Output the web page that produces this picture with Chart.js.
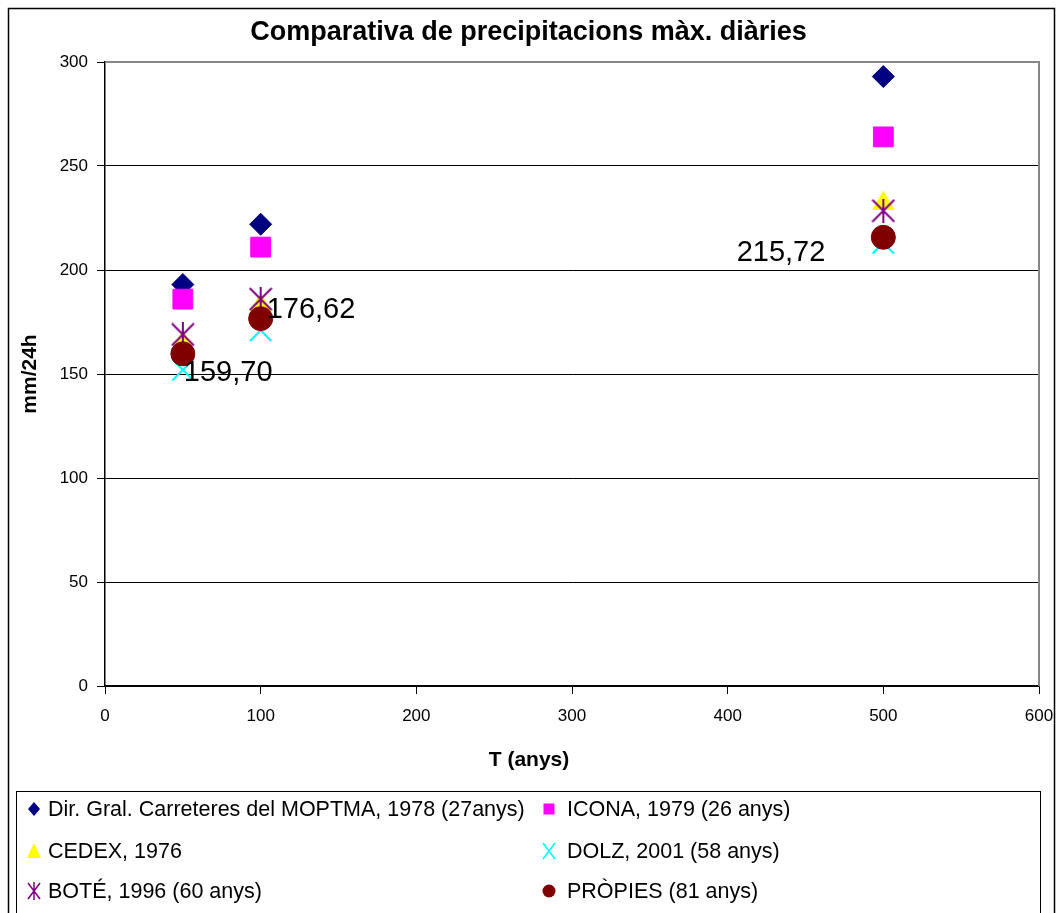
<!DOCTYPE html>
<html>
<head>
<meta charset="utf-8">
<title>Comparativa de precipitacions màx. diàries</title>
<script src="https://cdn.jsdelivr.net/npm/chart.js@4.4.1/dist/chart.umd.min.js"></script>
<style>
  html, body { margin: 0; padding: 0; background: #ffffff; }
  #wrap { width: 1056px; height: 913px; position: relative; }
</style>
</head>
<body>
<div id="wrap"><canvas id="chart" width="1056" height="913"></canvas></div>
<script>
// Return periods (years) and maximum daily precipitation (mm/24h) for each source
const returnPeriods = [50, 100, 500];
const moptma  = [193, 222, 293];
const icona   = [186, 211, 264];
const cedex   = [165, 183, 232];
const dolz    = [152, 171, 213];
const bote    = [169, 186, 228.5];
const propies = [159.70, 176.62, 215.72];

const seriesNames = [
  'Dir. Gral. Carreteres del MOPTMA, 1978 (27anys)',
  'ICONA, 1979 (26 anys)',
  'CEDEX, 1976',
  'DOLZ, 2001 (58 anys)',
  'BOTÉ, 1996 (60 anys)',
  'PRÒPIES (81 anys)'
];
const yTickValues = [0, 50, 100, 150, 200, 250, 300];
const xTickValues = [0, 100, 200, 300, 400, 500, 600];

const FONT = "'Liberation Sans', Arial, Helvetica, sans-serif";

// Six-armed asterisk marker (X plus a vertical bar)
function asteriskMarker(size, color, lw) {
  const c = document.createElement('canvas');
  c.width = size; c.height = size;
  const g = c.getContext('2d');
  g.strokeStyle = color; g.lineWidth = lw;
  const m = 1;
  g.beginPath();
  g.moveTo(m, m); g.lineTo(size - m, size - m);
  g.moveTo(size - m, m); g.lineTo(m, size - m);
  g.moveTo(size / 2, 0); g.lineTo(size / 2, size);
  g.stroke();
  return c;
}

const toPoints = vals => returnPeriods.map((x, i) => ({ x: x, y: vals[i] }));

const styles = [
  { color: '#000080', pointStyle: 'rectRot',  radius: 11, legend: 'diamond', order: 6 },
  { color: '#FF00FF', pointStyle: 'rect',     radius: 14, legend: 'square',  order: 5 },
  { color: '#FFFF00', pointStyle: 'triangle', radius: 12, legend: 'triangle', order: 4 },
  { color: '#00FFFF', pointStyle: 'crossRot', radius: 15, legend: 'x',       order: 3, bw: 2 },
  { color: '#800080', pointStyle: asteriskMarker(24, '#800080', 2), radius: 12, legend: 'asterisk', order: 2 },
  { color: '#800000', pointStyle: 'circle',   radius: 12, legend: 'circle',  order: 1 }
];
const seriesValues = [moptma, icona, cedex, dolz, bote, propies];

const datasets = seriesValues.map((vals, i) => ({
  label: seriesNames[i],
  data: toPoints(vals),
  pointStyle: styles[i].pointStyle,
  pointRadius: styles[i].radius,
  pointHoverRadius: styles[i].radius,
  backgroundColor: styles[i].color,
  borderColor: styles[i].color,
  borderWidth: styles[i].bw || 1,
  pointBorderWidth: styles[i].bw || 1,
  showLine: false,
  order: styles[i].order,
  legendMarker: styles[i].legend
}));

// Small legend markers
function drawLegendMarker(ctx, kind, x, y, color) {
  ctx.save();
  ctx.fillStyle = color; ctx.strokeStyle = color; ctx.lineWidth = 2;
  ctx.beginPath();
  switch (kind) {
    case 'diamond':
      ctx.moveTo(x, y - 7); ctx.lineTo(x + 6, y); ctx.lineTo(x, y + 7); ctx.lineTo(x - 6, y); ctx.closePath(); ctx.fill(); break;
    case 'square':
      ctx.rect(x - 5.5, y - 5.5, 11, 11); ctx.fill(); break;
    case 'triangle':
      ctx.moveTo(x, y - 8); ctx.lineTo(x + 7, y + 7); ctx.lineTo(x - 7, y + 7); ctx.closePath(); ctx.fill(); break;
    case 'x':
      ctx.lineWidth = 1.5;
      ctx.moveTo(x - 6, y - 8); ctx.lineTo(x + 6, y + 8); ctx.moveTo(x + 6, y - 8); ctx.lineTo(x - 6, y + 8); ctx.stroke(); break;
    case 'asterisk':
      ctx.lineWidth = 1.5;
      ctx.moveTo(x - 6, y - 8); ctx.lineTo(x + 6, y + 8); ctx.moveTo(x + 6, y - 8); ctx.lineTo(x - 6, y + 8);
      ctx.moveTo(x, y - 9); ctx.lineTo(x, y + 9); ctx.stroke(); break;
    case 'circle':
      ctx.arc(x, y, 6.5, 0, Math.PI * 2); ctx.fill(); break;
  }
  ctx.restore();
}

const framePlugin = {
  id: 'frame',
  beforeDraw(chart) {
    const ctx = chart.ctx;
    ctx.save();
    ctx.fillStyle = '#ffffff';
    ctx.fillRect(0, 0, chart.width, chart.height);
    ctx.strokeStyle = '#000000'; ctx.lineWidth = 1.5;
    ctx.strokeRect(8.5, 8.5, 1046, 1000);
    ctx.restore();
  },
  beforeDatasetsDraw(chart) {
    const a = chart.chartArea, ctx = chart.ctx;
    ctx.save();
    ctx.strokeStyle = '#868686'; ctx.lineWidth = 2;
    ctx.beginPath();
    ctx.moveTo(a.left, a.top); ctx.lineTo(a.right, a.top); ctx.lineTo(a.right, a.bottom);
    ctx.stroke();
    ctx.restore();
  },
  afterDraw(chart) {
    const ctx = chart.ctx;
    ctx.save();
    // x axis title
    ctx.fillStyle = '#000'; ctx.font = 'bold 21px ' + FONT;
    ctx.textAlign = 'center'; ctx.textBaseline = 'middle';
    ctx.fillText('T (anys)', 529, 760);
    // legend box
    ctx.strokeStyle = '#000'; ctx.lineWidth = 1;
    ctx.strokeRect(16.5, 791.5, 1024, 200);
    const rows = [809, 851, 891];
    const markX = [34, 549], textX = [48, 567];
    ctx.font = '21.5px ' + FONT; ctx.textAlign = 'left';
    chart.data.datasets.forEach((ds, i) => {
      const col = i % 2, row = Math.floor(i / 2);
      drawLegendMarker(ctx, ds.legendMarker, markX[col], rows[row], ds.backgroundColor);
      ctx.fillStyle = '#000';
      ctx.fillText(ds.label, textX[col], rows[row] + 1);
    });
    ctx.restore();
  }
};

// Value labels for the PRÒPIES series
const valueLabelPlugin = {
  id: 'valueLabels',
  afterDatasetsDraw(chart) {
    const idx = chart.data.datasets.length - 1;
    const meta = chart.getDatasetMeta(idx);
    const ctx = chart.ctx;
    const place = [
      { dx: 1, dy: 19, align: 'left' },
      { dx: 6, dy: -9, align: 'left' },
      { dx: -58, dy: 16, align: 'right' }
    ];
    ctx.save();
    ctx.font = '29px ' + FONT; ctx.fillStyle = '#000'; ctx.textBaseline = 'middle';
    meta.data.forEach((pt, i) => {
      const v = chart.data.datasets[idx].data[i].y;
      const p = place[i];
      ctx.textAlign = p.align;
      ctx.fillText(v.toFixed(2).replace('.', ','), pt.x + p.dx, pt.y + p.dy);
    });
    ctx.restore();
  }
};

new Chart(document.getElementById('chart'), {
  type: 'scatter',
  data: { datasets: datasets },
  options: {
    responsive: false,
    animation: false,
    devicePixelRatio: 1,
    layout: { padding: { left: 18, right: 17, top: 0, bottom: 123 } },
    plugins: {
      legend: { display: false },
      tooltip: { enabled: false },
      title: {
        display: true,
        text: 'Comparativa de precipitacions màx. diàries',
        color: '#000',
        font: { family: FONT, size: 27, weight: 'bold' },
        padding: { top: 16, bottom: 13.6 }
      }
    },
    scales: {
      x: {
        type: 'linear', min: 0, max: 600,
        afterBuildTicks(scale) { scale.ticks = xTickValues.map(v => ({ value: v })); },
        afterFit(scale) { scale.height = 104; scale.paddingLeft = 0; scale.paddingRight = 0; },
        ticks: { color: '#000', font: { family: FONT, size: 17 }, padding: 12, maxRotation: 0 },
        grid: { drawOnChartArea: false, drawTicks: true, tickLength: 8, tickColor: '#000' },
        border: { display: true, color: '#000', width: 1.5 }
      },
      y: {
        type: 'linear', min: 0, max: 300,
        afterBuildTicks(scale) { scale.ticks = yTickValues.map(v => ({ value: v })); },
        afterFit(scale) { scale.width = 87; },
        ticks: { color: '#000', font: { family: FONT, size: 17 }, padding: 9 },
        grid: {
          color: c => (c.tick && c.tick.value === 300) ? '#868686' : '#000',
          lineWidth: 1, drawTicks: true, tickLength: 8, tickColor: '#000'
        },
        border: { display: true, color: '#000', width: 1.5 },
        title: {
          display: true, text: 'mm/24h', color: '#000',
          font: { family: FONT, size: 21, weight: 'bold' },
          padding: { top: 0, bottom: 0 }
        }
      }
    }
  },
  plugins: [framePlugin, valueLabelPlugin]
});
</script>
</body>
</html>
